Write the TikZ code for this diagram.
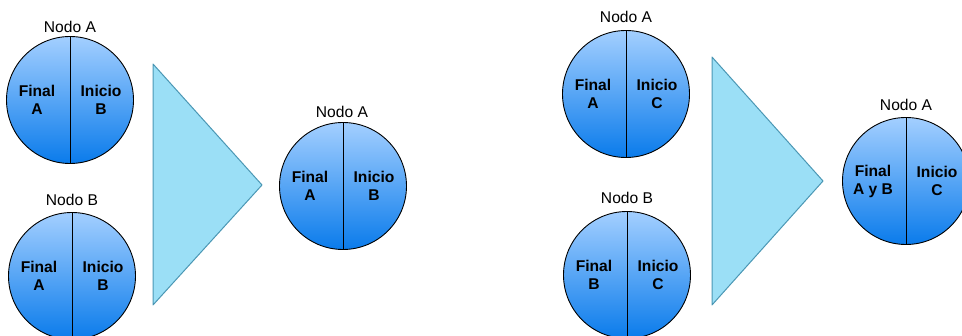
\documentclass[tikz,border=0pt]{standalone}
\usepackage{fontspec}
\setmainfont{Liberation Sans}
\definecolor{azulclaro}{RGB}{163,207,255}
\definecolor{azuloscuro}{RGB}{10,123,235}
\definecolor{celeste}{RGB}{155,223,246}
\definecolor{celesteborde}{RGB}{75,151,180}

\begin{document}
\begin{tikzpicture}[x=1pt,y=-1pt,
  nodo/.style={circle,draw=black,line width=0.9pt,minimum size=127pt,inner sep=0pt,
    top color=azulclaro,bottom color=azuloscuro},
  mitad/.style={font=\fontsize{15.6}{18}\selectfont\bfseries,align=center,inner sep=0pt},
  titulo/.style={font=\fontsize{15.6}{18}\selectfont,inner sep=0pt},
  embudo/.style={fill=celeste,draw=celesteborde,line width=1pt,line join=round}]
\clip (0,0) rectangle (962,336);

% primera fusion
\node at (70,100)[nodo] (A1) {};
\node at (72,276)[nodo] (B1) {};
\node at (343,186)[nodo] (R1) {};
\node at (70,27)[titulo] (tA1) {Nodo A};
\node at (72,200)[titulo] (tB1) {Nodo B};
\node at (342,112)[titulo] (tR1) {Nodo A};
\draw[line width=0.9pt] (A1.north) -- (A1.south);
\draw[line width=0.9pt] (B1.north) -- (B1.south);
\draw[line width=0.9pt] (R1.north) -- (R1.south);
\node at ([xshift=-33pt]A1)[mitad] {Final\\A};
\node at ([xshift=31pt]A1)[mitad] {Inicio\\B};
\node at ([xshift=-33pt]B1)[mitad] {Final\\A};
\node at ([xshift=31pt]B1)[mitad] {Inicio\\B};
\node at ([xshift=-33pt]R1)[mitad] {Final\\A};
\node at ([xshift=31pt]R1)[mitad] {Inicio\\B};
\draw[embudo] (153,64) -- (262,185) -- (153,305) -- cycle;

% segunda fusion
\node at (626,94)[nodo] (A2) {};
\node at (627,275)[nodo] (B2) {};
\node at (906,181)[nodo] (R2) {};
\node at (626,17)[titulo] (tA2) {Nodo A};
\node at (627,198)[titulo] (tB2) {Nodo B};
\node at (906,105)[titulo] (tR2) {Nodo A};
\draw[line width=0.9pt] (A2.north) -- (A2.south);
\draw[line width=0.9pt] (B2.north) -- (B2.south);
\draw[line width=0.9pt] (R2.north) -- (R2.south);
\node at ([xshift=-33pt]A2)[mitad] {Final\\A};
\node at ([xshift=31pt]A2)[mitad] {Inicio\\C};
\node at ([xshift=-33pt]B2)[mitad] {Final\\B};
\node at ([xshift=31pt]B2)[mitad] {Inicio\\C};
\node at ([xshift=-33pt]R2)[mitad] {Final\\A y B};
\node at ([xshift=31pt]R2)[mitad] {Inicio\\C};
\draw[embudo] (712,57) -- (823,181) -- (712,305) -- cycle;
\end{tikzpicture}
\end{document}
